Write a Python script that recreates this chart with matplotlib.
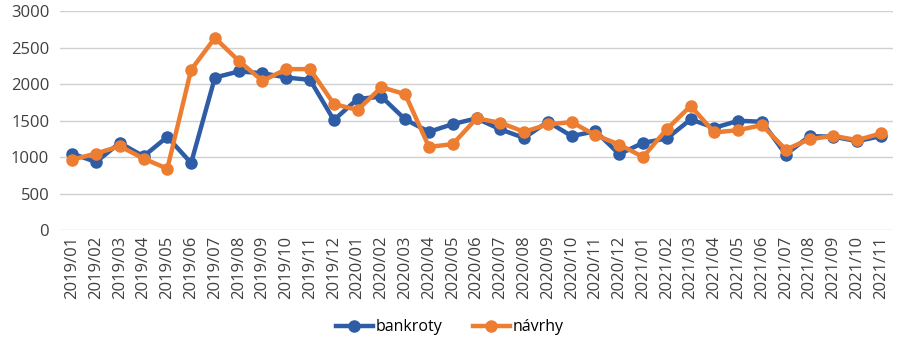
import numpy as np
import matplotlib
matplotlib.use("Agg")
import matplotlib.pyplot as plt

months = [f"{y}/{m:02d}" for y in (2019, 2020, 2021) for m in range(1, 13)][:35]
bankroty = [1048, 933, 1195, 1011, 1277, 919, 2089, 2172, 2149, 2089, 2057, 1507,
            1796, 1827, 1516, 1346, 1452, 1530, 1379, 1263, 1484, 1287, 1355, 1040,
            1195, 1255, 1516, 1401, 1497, 1484, 1035, 1287, 1280, 1218, 1287]
navrhy = [966, 1048, 1149, 980, 842, 2195, 2631, 2319, 2043, 2204, 2204, 1727,
          1644, 1957, 1860, 1140, 1177, 1530, 1470, 1346, 1448, 1479, 1300, 1172,
          1002, 1383, 1700, 1337, 1369, 1438, 1103, 1245, 1291, 1232, 1324]
COLORS = {"bankroty": "#2E5DA6", "navrhy": "#ED7D31"}

plt.rcParams["font.family"] = ["Open Sans", "DejaVu Sans"]

fig = plt.figure(figsize=(9, 3.43), dpi=100)
ax = fig.add_axes([0.067, 0.329, 0.925, 0.639])
x = np.arange(len(months))
ax.plot(x, bankroty, "o-", color=COLORS["bankroty"], lw=3.2, ms=8, label="bankroty")
ax.plot(x, navrhy, "o-", color=COLORS["navrhy"], lw=3.2, ms=8, label="návrhy")
ax.set_xlim(-0.5, len(months) - 0.5)
ax.set_ylim(0, 3000)
ax.set_yticks(range(0, 3001, 500))
ax.set_xticks(x)
ax.set_xticklabels(months, rotation=90, fontsize=12, color="#404040")
ax.tick_params(axis="y", labelsize=12, labelcolor="#404040", length=0, pad=8)
ax.tick_params(axis="x", length=0, pad=4)
ax.grid(axis="y", color="#D0D0D0", lw=1)
ax.set_axisbelow(True)
for s in ax.spines.values():
    s.set_visible(False)
fig.legend(loc="lower center", bbox_to_anchor=(0.5, -0.02), ncol=2, frameon=False,
           fontsize=11.5, handlelength=2.3, columnspacing=1.9, handletextpad=0.2)
plt.savefig("out.png", dpi=100)
plt.close()
